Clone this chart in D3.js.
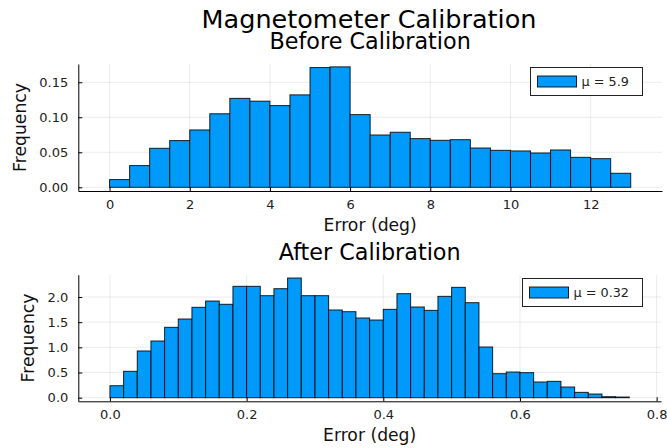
<!DOCTYPE html>
<html>
<head>
<meta charset="utf-8">
<script src="https://cdn.jsdelivr.net/npm/d3@7"></script>
<style>
  html, body { margin: 0; padding: 0; background: #fff; }
  svg { display: block; font-family: "DejaVu Sans", sans-serif; }
</style>
</head>
<body>
<svg id="chart" width="667" height="448"></svg>
<script>
// ---------- data ----------
const mainTitle = "Magnetometer Calibration";
const beforeTitle = "Before Calibration";
const afterTitle = "After Calibration";
const xLabel = "Error (deg)";
const yLabel = "Frequency";

const beforeBinStart = 0;
const beforeBinWidth = 0.5;
const beforeFreq = [0.011, 0.031, 0.0557, 0.0667, 0.0819, 0.105, 0.127, 0.123, 0.1167, 0.132,
                    0.171, 0.172, 0.1038, 0.0747, 0.0786, 0.0695, 0.0671, 0.068, 0.0561, 0.0528,
                    0.0519, 0.049, 0.0533, 0.0428, 0.0409, 0.020];
const beforeLegend = "μ = 5.9";
const beforeXTicks = [0, 2, 4, 6, 8, 10, 12];
const beforeYTicks = [0, 0.05, 0.10, 0.15];

const afterBinStart = 0;
const afterBinWidth = 0.02;
const afterFreq = [0.238, 0.524, 0.928, 1.126, 1.398, 1.563, 1.795, 1.920, 1.855, 2.212,
                   2.212, 2.026, 2.165, 2.377, 2.026, 2.026, 1.742, 1.708, 1.583, 1.543,
                   1.755, 2.066, 1.801, 1.735, 2.013, 2.192, 1.887, 1.007, 0.477, 0.510,
                   0.497, 0.312, 0.325, 0.212, 0.106, 0.073, 0.020, 0.013];
const afterLegend = "μ = 0.32";
const afterXTicks = [0, 0.2, 0.4, 0.6, 0.8];
const afterYTicks = [0, 0.5, 1.0, 1.5, 2.0];

// ---------- drawing ----------
const svg = d3.select("#chart");
const barColor = "#009AFA";

svg.append("text")
  .attr("x", 369).attr("y", 28)
  .attr("text-anchor", "middle")
  .attr("font-size", 25.5).attr("fill", "#000")
  .text(mainTitle);

function panel(opts) {
  const { left, right, top, bottom, xDomain, yDomain, freq, binStart, binWidth,
          xTicks, yTicks, xFmt, yFmt, title, legend, legendBox, yLabelX } = opts;
  const x = d3.scaleLinear().domain(xDomain).range([left, right]);
  const y = d3.scaleLinear().domain(yDomain).range([bottom, top]);
  const g = svg.append("g");

  // grid
  g.append("g").selectAll("line.vg").data(xTicks).join("line")
    .attr("x1", d => x(d)).attr("x2", d => x(d))
    .attr("y1", top).attr("y2", bottom)
    .attr("stroke", "#000").attr("stroke-opacity", 0.1).attr("stroke-width", 0.8);
  g.append("g").selectAll("line.hg").data(yTicks).join("line")
    .attr("x1", left).attr("x2", right)
    .attr("y1", d => y(d)).attr("y2", d => y(d))
    .attr("stroke", "#000").attr("stroke-opacity", 0.1).attr("stroke-width", 0.8);

  // bars
  g.append("g").selectAll("rect").data(freq).join("rect")
    .attr("x", (d, i) => x(binStart + i * binWidth))
    .attr("width", (d, i) => x(binStart + (i + 1) * binWidth) - x(binStart + i * binWidth))
    .attr("y", d => y(d))
    .attr("height", d => y(0) - y(d))
    .attr("fill", barColor)
    .attr("stroke", "#000").attr("stroke-opacity", 0.85).attr("stroke-width", 1);

  // axes
  const xAxis = d3.axisBottom(x).tickValues(xTicks).tickFormat(xFmt)
    .tickSizeInner(-4).tickSizeOuter(0).tickPadding(8.5);
  const gx = g.append("g").attr("transform", `translate(0,${bottom})`).call(xAxis);
  const yAxis = d3.axisLeft(y).tickValues(yTicks).tickFormat(yFmt)
    .tickSizeInner(-4).tickSizeOuter(0).tickPadding(10);
  const gy = g.append("g").attr("transform", `translate(${left},0)`).call(yAxis);
  [gx, gy].forEach(a => {
    a.attr("font-family", "DejaVu Sans, sans-serif").attr("font-size", 13);
    a.selectAll("text").attr("fill", "#222");
    a.selectAll("line").attr("stroke", "#000");
    a.select(".domain").attr("stroke", "#000").attr("stroke-width", 1);
  });

  // title
  g.append("text")
    .attr("x", (left + right) / 2).attr("y", top - 15)
    .attr("text-anchor", "middle").attr("font-size", 22.3).attr("fill", "#000")
    .text(title);

  // x label
  g.append("text")
    .attr("x", (left + right) / 2).attr("y", bottom + 39.5)
    .attr("text-anchor", "middle").attr("font-size", 17.2).attr("fill", "#111")
    .text(xLabel);

  // y label
  g.append("text")
    .attr("transform", `translate(${yLabelX},${(top + bottom) / 2}) rotate(-90)`)
    .attr("text-anchor", "middle").attr("font-size", 17.2).attr("fill", "#111")
    .text(yLabel);

  // legend
  const lb = legendBox;
  g.append("rect")
    .attr("x", lb.x).attr("y", lb.y).attr("width", lb.w).attr("height", lb.h)
    .attr("fill", "#fff").attr("stroke", "#222").attr("stroke-width", 1);
  g.append("rect")
    .attr("x", lb.x + 7).attr("y", lb.y + lb.h / 2 - 5.5).attr("width", 39).attr("height", 11)
    .attr("fill", barColor).attr("stroke", "#000").attr("stroke-opacity", 0.85).attr("stroke-width", 1);
  g.append("text")
    .attr("x", lb.x + 51).attr("y", lb.y + lb.h / 2 + 4.5)
    .attr("font-size", 12.8).attr("fill", "#222")
    .text(legend);
}

panel({
  left: 78.3, right: 662, top: 64, bottom: 191,
  xDomain: [-0.78, 13.78], yDomain: [-0.0053, 0.1761],
  freq: beforeFreq, binStart: beforeBinStart, binWidth: beforeBinWidth,
  xTicks: beforeXTicks, yTicks: beforeYTicks,
  xFmt: d3.format("d"), yFmt: d3.format(".2f"),
  title: beforeTitle, legend: beforeLegend,
  legendBox: { x: 530.5, y: 67.5, w: 112, h: 28 },
  yLabelX: 26
});

panel({
  left: 78.3, right: 661, top: 274.7, bottom: 401.3,
  xDomain: [-0.0463, 0.8064], yDomain: [-0.0715, 2.443],
  freq: afterFreq, binStart: afterBinStart, binWidth: afterBinWidth,
  xTicks: afterXTicks, yTicks: afterYTicks,
  xFmt: d3.format(".1f"), yFmt: d3.format(".1f"),
  title: afterTitle, legend: afterLegend,
  legendBox: { x: 522.5, y: 278.5, w: 120, h: 28 },
  yLabelX: 34
});
</script>
</body>
</html>
